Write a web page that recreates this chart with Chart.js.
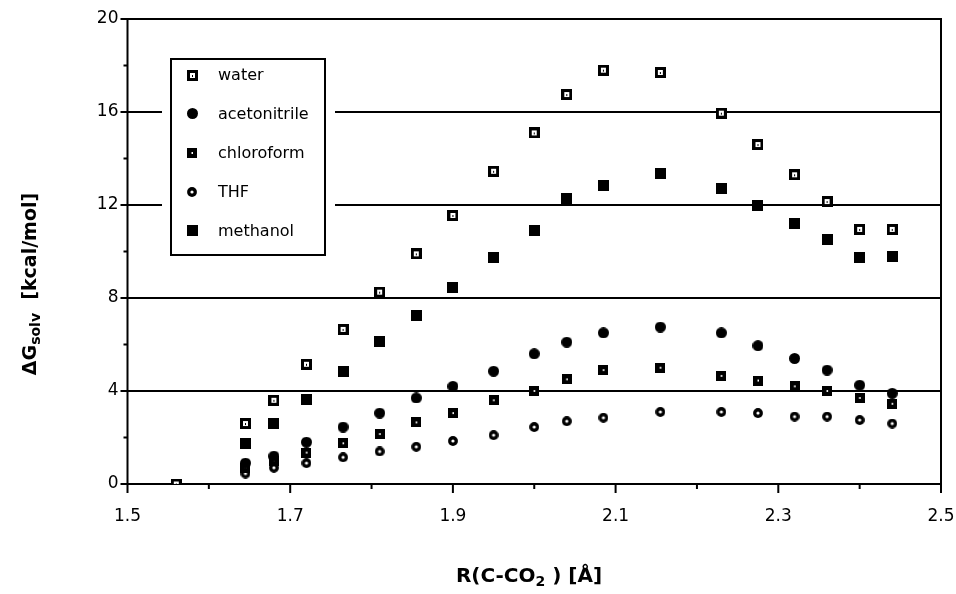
<!DOCTYPE html>
<html>
<head>
<meta charset="utf-8">
<script src="https://cdn.jsdelivr.net/npm/chart.js@4/dist/chart.umd.min.js"></script>
<style>
  html, body { margin: 0; padding: 0; background: #fff; }
  #wrap { width: 956px; height: 594px; }
</style>
</head>
<body>
<div id="wrap"><canvas id="chart" width="956" height="594"></canvas></div>
<script>
// R(C-CO2) in Angstrom, shared by all solvents
const distances = [1.56, 1.645, 1.68, 1.72, 1.765, 1.81, 1.855, 1.90, 1.95, 2.00, 2.04, 2.085, 2.155, 2.23, 2.275, 2.32, 2.36, 2.40, 2.44];

// dG solv [kcal/mol]
const water        = [0, 2.6, 3.6, 5.15, 6.65, 8.25, 9.9, 11.55, 13.45, 15.1, 16.75, 17.8, 17.7, 15.95, 14.6, 13.3, 12.15, 10.95, 10.95];
const acetonitrile = [0, 0.9, 1.2, 1.8, 2.45, 3.05, 3.7, 4.2, 4.85, 5.6, 6.1, 6.5, 6.75, 6.5, 5.95, 5.4, 4.9, 4.25, 3.9];
const chloroform   = [0, 0.7, 1.0, 1.35, 1.75, 2.15, 2.65, 3.05, 3.6, 4.0, 4.5, 4.9, 5.0, 4.65, 4.45, 4.2, 4.0, 3.7, 3.45];
const thf          = [0, 0.45, 0.7, 0.9, 1.15, 1.4, 1.6, 1.85, 2.1, 2.45, 2.7, 2.85, 3.1, 3.1, 3.05, 2.9, 2.9, 2.75, 2.6];
const methanol     = [0, 1.75, 2.6, 3.65, 4.85, 6.15, 7.25, 8.45, 9.75, 10.9, 12.3, 12.85, 13.35, 12.7, 12.0, 11.2, 10.5, 9.75, 9.8];

const seriesNames = ['water', 'acetonitrile', 'chloroform', 'THF', 'methanol'];

const xMajorTicks = [1.5, 1.7, 1.9, 2.1, 2.3, 2.5];
const xMinorTicks = [1.6, 1.8, 2.0, 2.2, 2.4];
const yMajorTicks = [0, 4, 8, 12, 16, 20];
const yMinorTicks = [2, 6, 10, 14, 18];

// little bitmaps for the markers, used by the points and the legend
function makeMarker(size, draw) {
    const c = document.createElement('canvas');
    c.width = size;
    c.height = size;
    draw(c.getContext('2d'), size);
    return c;
}

const markers = [
    // water: open square with a dot
    makeMarker(11, (g, s) => {
        g.fillStyle = '#000'; g.fillRect(0, 0, s, s);
        g.fillStyle = '#fff'; g.fillRect(3, 3, s - 6, s - 6);
        g.fillStyle = '#000'; g.fillRect(5, 5, 1, 2);
    }),
    // acetonitrile: filled circle
    makeMarker(11, (g, s) => {
        g.fillStyle = '#000';
        g.beginPath(); g.arc(s / 2, s / 2, s / 2, 0, Math.PI * 2); g.fill();
    }),
    // chloroform: filled square, tiny light centre
    makeMarker(10, (g, s) => {
        g.fillStyle = '#000'; g.fillRect(0, 0, s, s);
        g.fillStyle = '#fff'; g.fillRect(4.5, 4, 1.5, 2);
    }),
    // THF: open diamond / ring
    makeMarker(10, (g, s) => {
        g.fillStyle = '#000';
        g.beginPath(); g.arc(s / 2, s / 2, s / 2 - 0.1, 0, Math.PI * 2); g.fill();
        g.fillStyle = '#fff';
        g.beginPath(); g.arc(s / 2, s / 2, 1.6, 0, Math.PI * 2); g.fill();
    }),
    // methanol: filled square
    makeMarker(11, (g, s) => {
        g.fillStyle = '#000'; g.fillRect(0, 0, s, s);
    })
];

const seriesValues = [water, acetonitrile, chloroform, thf, methanol];

const datasets = seriesNames.map((name, i) => ({
    label: name,
    data: distances.map((d, k) => ({ x: d, y: seriesValues[i][k] })),
    pointStyle: markers[i],
    pointRadius: 5,
    pointHoverRadius: 5,
    showLine: false
}));

const tickFont = { family: 'DejaVu Sans', size: 17 };

function drawSubText(ctx, parts, x, y) {
    // parts: [text, size, baselineShift]; centred on x
    let total = 0;
    parts.forEach(p => {
        ctx.font = 'bold ' + p[1] + 'px "DejaVu Sans"';
        total += ctx.measureText(p[0]).width;
    });
    let cx = x - total / 2;
    parts.forEach(p => {
        ctx.font = 'bold ' + p[1] + 'px "DejaVu Sans"';
        ctx.fillText(p[0], cx, y + p[2]);
        cx += ctx.measureText(p[0]).width;
    });
}

const decorations = {
    id: 'decorations',
    beforeDatasetsDraw(chart) {
        const { ctx, chartArea: a, scales: { x, y } } = chart;
        ctx.save();
        ctx.strokeStyle = '#000';
        ctx.lineWidth = 2;
        ctx.strokeRect(a.left, a.top, a.right - a.left, a.bottom - a.top);

        ctx.beginPath();
        yMajorTicks.forEach(v => {
            const py = y.getPixelForValue(v);
            ctx.moveTo(a.left - 7, py); ctx.lineTo(a.left, py);
        });
        yMinorTicks.forEach(v => {
            const py = y.getPixelForValue(v);
            ctx.moveTo(a.left - 4, py); ctx.lineTo(a.left, py);
        });
        xMajorTicks.forEach(v => {
            const px = x.getPixelForValue(v);
            ctx.moveTo(px, a.bottom); ctx.lineTo(px, a.bottom + 9);
        });
        xMinorTicks.forEach(v => {
            const px = x.getPixelForValue(v);
            ctx.moveTo(px, a.bottom); ctx.lineTo(px, a.bottom + 5);
        });
        ctx.stroke();

        // legend box inside the plot
        const bx = 171, by = 59, bw = 154, bh = 196;
        ctx.fillStyle = '#fff';
        ctx.fillRect(bx - 9, by - 4, bw + 19, bh + 8);
        ctx.strokeRect(bx, by, bw, bh);
        ctx.font = '16px "DejaVu Sans"';
        ctx.fillStyle = '#000';
        ctx.textBaseline = 'middle';
        ctx.textAlign = 'left';
        chart.data.datasets.forEach((ds, i) => {
            const ly = 75 + i * 38.9;
            const m = ds.pointStyle;
            ctx.drawImage(m, Math.round(192 - m.width / 2), Math.round(ly - m.height / 2));
            ctx.fillText(ds.label, 218, ly + 1);
        });
        ctx.restore();
    },
    afterDraw(chart) {
        const { ctx } = chart;
        ctx.save();
        ctx.fillStyle = '#000';
        ctx.textAlign = 'left';
        ctx.textBaseline = 'alphabetic';
        // x axis title
        drawSubText(ctx, [['R(C-CO', 20, 0], ['2', 14, 4], [' ) [Å]', 20, 0]], 529, 582);
        // y axis title, rotated
        ctx.translate(36, 284);
        ctx.rotate(-Math.PI / 2);
        drawSubText(ctx, [['ΔG', 19, 0], ['solv', 14, 4], ['  [kcal/mol]', 19, 0]], 0, 0);
        ctx.restore();
    }
};

new Chart(document.getElementById('chart'), {
    type: 'scatter',
    data: { datasets: datasets },
    options: {
        responsive: false,
        animation: false,
        events: [],
        layout: { padding: { top: 19, right: 15, left: 0, bottom: 0 } },
        plugins: {
            legend: { display: false },
            tooltip: { enabled: false }
        },
        scales: {
            x: {
                type: 'linear',
                min: 1.5,
                max: 2.5,
                afterBuildTicks: s => { s.ticks = xMajorTicks.map(v => ({ value: v })); },
                afterFit: s => {
                    s.height = 110;
                    s.paddingLeft = 0;
                    s.paddingRight = 0;
                },
                grid: { display: false, drawTicks: false },
                border: { display: false },
                ticks: {
                    color: '#000',
                    font: tickFont,
                    padding: 22,
                    maxRotation: 0,
                    autoSkip: false,
                    callback: v => v.toFixed(1)
                }
            },
            y: {
                type: 'linear',
                min: 0,
                max: 20,
                afterBuildTicks: s => { s.ticks = yMajorTicks.map(v => ({ value: v })); },
                afterFit: s => {
                    s.width = 127.5;
                    s.paddingTop = 0;
                    s.paddingBottom = 0;
                },
                grid: { color: '#000', lineWidth: 2, drawTicks: false },
                border: { display: false },
                ticks: {
                    color: '#000',
                    font: tickFont,
                    padding: 9,
                    callback: v => String(v)
                }
            }
        }
    },
    plugins: [decorations]
});
</script>
</body>
</html>
